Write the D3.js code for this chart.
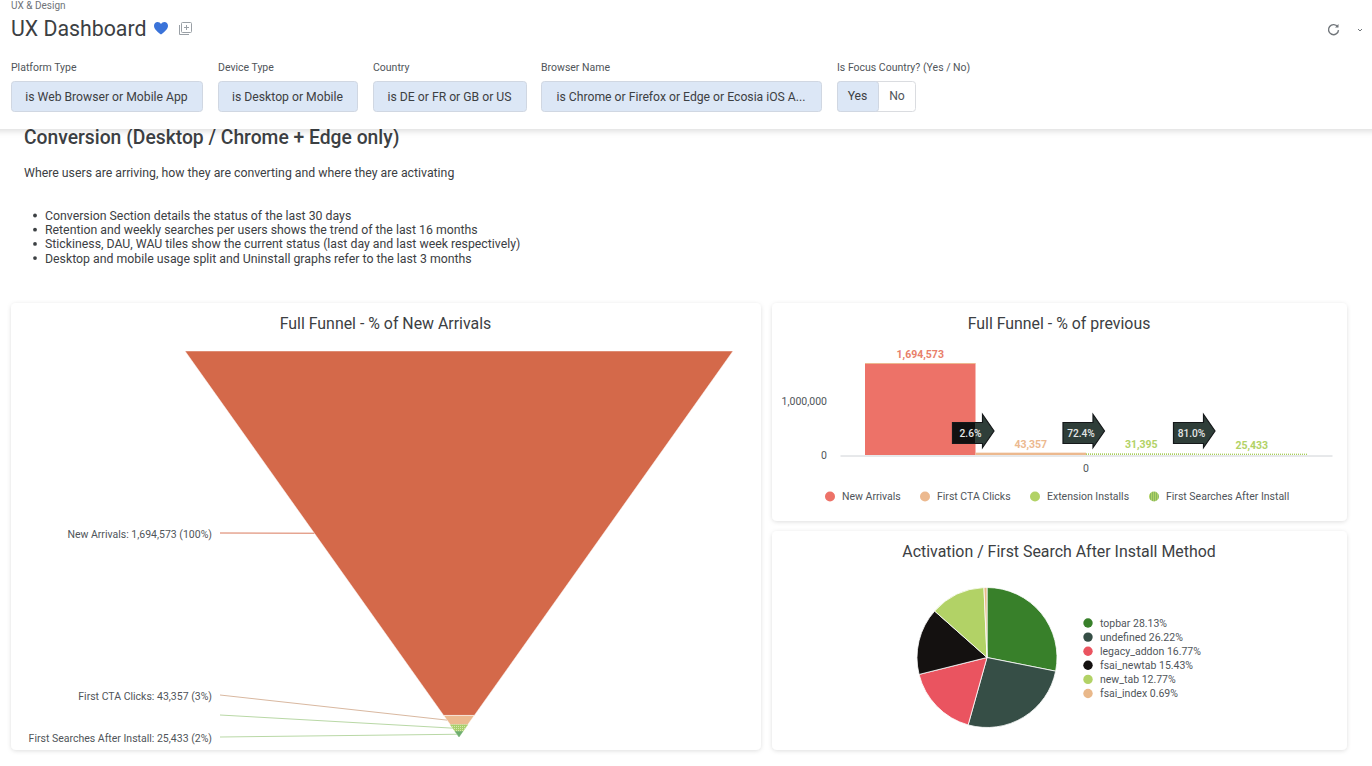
<!DOCTYPE html>
<html>
<head>
<meta charset="utf-8">
<script src="https://cdnjs.cloudflare.com/ajax/libs/d3/7.8.5/d3.min.js"></script>
<style>
    html, body { margin: 0; padding: 0; background: #fff; overflow: hidden; }
    svg { display: block; font-family: Roboto, sans-serif; }
</style>
</head>
<body>
<div id="chart"></div>
<script>
// funnel + bar series
const stages = ["New Arrivals", "First CTA Clicks", "Extension Installs", "First Searches After Install"];
const stageValues = [1694573, 43357, 31395, 25433];
const funnelLabels = ["New Arrivals: 1,694,573 (100%)", "First CTA Clicks: 43,357 (3%)", "", "First Searches After Install: 25,433 (2%)"];
const stepLabels = ["2.6%", "72.4%", "81.0%"];

// pie
const methods = ["topbar", "undefined", "legacy_addon", "fsai_newtab", "new_tab", "fsai_index"];
const methodShares = [28.13, 26.22, 16.77, 15.43, 12.77, 0.69];

// page text
const filterNames = ["Platform Type", "Device Type", "Country", "Browser Name", "Is Focus Country? (Yes / No)"];
const filterValues = ["is Web Browser or Mobile App", "is Desktop or Mobile", "is DE or FR or GB or US", "is Chrome or Firefox or Edge or Ecosia iOS A..."];
const notes = [
    "Conversion Section details the status of the last 30 days",
    "Retention and weekly searches per users shows the trend of the last 16 months",
    "Stickiness, DAU, WAU tiles show the current status (last day and last week respectively)",
    "Desktop and mobile usage split and Uninstall graphs refer to the last 3 months"
];

const barColors = ["#ed7268", "#ecb98f", "url(#barDots)", "url(#barDots)"];
const labelColors = ["#e8806a", "#ecb98f", "#b2d266", "#b2d266"];
const legendColors = ["#ed7268", "#ecb98f", "#b2d266", "url(#dots)"];
const funnelColors = ["#d4694a", "#ecb98f", "url(#dotsLight)", "#6fae6f"];
const funnelEdges = ["#fff", "#fff", "#a9cf6b", "#6fae6f"];
const leaderColors = ["#d9795c", "#d9b8a0", "#b9d8a6", "#b9d8a6"];
const pieColors = ["#38802a", "#364e46", "#ea5460", "#141110", "#b2d266", "#e9b88a"];

const textDark = "#3c4043";
const textMid = "#50555a";

let svg = d3.select("#chart")
    .append("svg")
    .attr("width", 1372)
    .attr("height", 766);

let defs = svg.append("defs");

let shadow = defs.append("filter")
    .attr("id", "cardShadow")
    .attr("x", "-5%").attr("y", "-5%")
    .attr("width", "110%").attr("height", "110%");
shadow.append("feDropShadow")
    .attr("dx", 0).attr("dy", 1)
    .attr("stdDeviation", 2)
    .attr("flood-color", "#000")
    .attr("flood-opacity", 0.13);

let headShadow = defs.append("filter")
    .attr("id", "headShadow")
    .attr("x", "-2%").attr("y", "-5%")
    .attr("width", "104%").attr("height", "120%");
headShadow.append("feDropShadow")
    .attr("dx", 0).attr("dy", 2)
    .attr("stdDeviation", 3)
    .attr("flood-color", "#000")
    .attr("flood-opacity", 0.14);

function dotPattern(id, bg, fg, h) {
    let p = defs.append("pattern")
        .attr("id", id)
        .attr("width", 2).attr("height", 2)
        .attr("patternUnits", "userSpaceOnUse");
    p.append("rect").attr("width", 2).attr("height", 2).attr("fill", bg);
    p.append("rect").attr("width", 1).attr("height", h).attr("fill", fg);
}
dotPattern("dots", "#b2d266", "#5f9e58", 1);
dotPattern("dotsLight", "#a9cf6b", "#d5e8b0", 1);
dotPattern("barDots", "#fff", "#a9cf5a", 2);

// body text goes first so the sticky header can cover the top of the heading
svg.append("text")
    .attr("x", 24).attr("y", 144)
    .attr("font-size", 19.3).attr("font-weight", 500)
    .attr("fill", textDark)
    .text("Conversion (Desktop / Chrome + Edge only)");

svg.append("text")
    .attr("x", 24).attr("y", 177)
    .attr("font-size", 12.3)
    .attr("fill", textDark)
    .text("Where users are arriving, how they are converting and where they are activating");

let noteRows = svg.append("g")
    .selectAll("g")
    .data(notes)
    .enter()
    .append("g")
    .attr("transform", function(d, i) { return "translate(0," + (215.5 + i * 14.2) + ")"; });
noteRows.append("circle")
    .attr("cx", 35).attr("r", 1.9)
    .attr("fill", textDark);
noteRows.append("text")
    .attr("x", 45).attr("y", 4.5)
    .attr("font-size", 12.3)
    .attr("fill", textDark)
    .text(function(d) { return d; });

// header
svg.append("rect")
    .attr("x", -10).attr("y", -10)
    .attr("width", 1392).attr("height", 139)
    .attr("fill", "#fff")
    .attr("filter", "url(#headShadow)");

svg.append("text")
    .attr("x", 11).attr("y", 9)
    .attr("font-size", 10)
    .attr("fill", "#6f7478")
    .text("UX & Design");

svg.append("text")
    .attr("x", 11).attr("y", 36)
    .attr("font-size", 21.3)
    .attr("fill", textDark)
    .text("UX Dashboard");

// heart
svg.append("path")
    .attr("transform", "translate(154,22)")
    .attr("d", "M7 12.5 C2 9 0 6.5 0 3.8 C0 1.5 1.7 0 3.6 0 C5 0 6.3 .8 7 2 C7.7 .8 9 0 10.4 0 C12.3 0 14 1.5 14 3.8 C14 6.5 12 9 7 12.5 Z")
    .attr("fill", "#3a73d9");

// add-to-board icon
let boardIcon = svg.append("g")
    .attr("transform", "translate(179,22)")
    .attr("fill", "none")
    .attr("stroke", "#9aa0a6");
boardIcon.append("rect").attr("x", 2.5).attr("y", .5).attr("width", 10).attr("height", 10).attr("rx", 1);
boardIcon.append("path").attr("d", "M.5 3V12.5H10M7.5 3V8M5 5.5H10");

// refresh icon
let refreshIcon = svg.append("g")
    .attr("transform", "translate(1333.5,29.5)")
    .attr("fill", "none")
    .attr("stroke", "#70757a")
    .attr("stroke-width", 1.4);
refreshIcon.append("path").attr("d", "M4.2 -2.6 A5 5 0 1 0 5 0.6");
refreshIcon.append("path").attr("d", "M5 -5.5 V-2 H1.5").attr("fill", "#70757a").attr("stroke", "none");

svg.append("path")
    .attr("d", "M1358 29l2 2l2 -2")
    .attr("fill", "none")
    .attr("stroke", "#70757a");

// filters
const filterX = [11, 218, 373, 541, 837];
const chipW = [192, 140, 154, 281];

svg.append("g")
    .selectAll("text")
    .data(filterNames)
    .enter()
    .append("text")
    .attr("x", function(d, i) { return filterX[i]; })
    .attr("y", 71)
    .attr("font-size", 10.5)
    .attr("fill", textMid)
    .text(function(d) { return d; });

let chips = svg.append("g")
    .selectAll("g")
    .data(filterValues)
    .enter()
    .append("g")
    .attr("transform", function(d, i) { return "translate(" + filterX[i] + ",81)"; });
chips.append("rect")
    .attr("x", .5).attr("y", .5)
    .attr("width", function(d, i) { return chipW[i] - 1; })
    .attr("height", 30)
    .attr("rx", 3)
    .attr("fill", "#dce7f6")
    .attr("stroke", "#d0d7e2");
chips.append("text")
    .attr("x", function(d, i) { return chipW[i] / 2 - .5; })
    .attr("y", 20)
    .attr("text-anchor", "middle")
    .attr("font-size", 12.2)
    .attr("fill", textDark)
    .text(function(d) { return d; });

svg.append("rect")
    .attr("x", 837.5).attr("y", 81.5)
    .attr("width", 78).attr("height", 30)
    .attr("rx", 3)
    .attr("fill", "#fff")
    .attr("stroke", "#dadce0");
svg.append("rect")
    .attr("x", 837.5).attr("y", 81.5)
    .attr("width", 41).attr("height", 30)
    .attr("rx", 3)
    .attr("fill", "#dce7f6")
    .attr("stroke", "#d0d7e2");
svg.append("text")
    .attr("x", 857.5).attr("y", 100)
    .attr("text-anchor", "middle")
    .attr("font-size", 12.2)
    .attr("fill", textDark)
    .text("Yes");
svg.append("text")
    .attr("x", 897).attr("y", 100)
    .attr("text-anchor", "middle")
    .attr("font-size", 12.2)
    .attr("fill", textMid)
    .text("No");

// cards
const cards = [
    { x: 11, y: 303, w: 750, h: 447, title: "Full Funnel - % of New Arrivals" },
    { x: 772, y: 303, w: 575, h: 218, title: "Full Funnel - % of previous" },
    { x: 772, y: 531, w: 575, h: 219, title: "Activation / First Search After Install Method" }
];

let cardG = svg.append("g")
    .selectAll("g")
    .data(cards)
    .enter()
    .append("g");
cardG.append("rect")
    .attr("x", function(d) { return d.x; })
    .attr("y", function(d) { return d.y; })
    .attr("width", function(d) { return d.w; })
    .attr("height", function(d) { return d.h; })
    .attr("rx", 5)
    .attr("fill", "#fff")
    .attr("filter", "url(#cardShadow)");
cardG.append("text")
    .attr("x", function(d) { return d.x + d.w / 2 - .5; })
    .attr("y", function(d) { return d.y + 25.5; })
    .attr("text-anchor", "middle")
    .attr("font-size", 15.9)
    .attr("fill", textDark)
    .text(function(d) { return d.title; });

// funnel: each section is as tall as its value, the outline runs to the apex
const funnelTotal = d3.sum(stageValues);
const funnelCx = 459;
const funnelTop = 351;
const funnelBottom = 737;
const funnelHalfW = 274;

let funnelY = d3.scaleLinear()
    .domain([0, funnelTotal])
    .range([funnelTop, funnelBottom]);
let funnelHalf = d3.scaleLinear()
    .domain([funnelTop, funnelBottom])
    .range([funnelHalfW, 0]);

let cumul = d3.cumsum(stageValues);
let sections = stages.map(function(s, i) {
    return {
        y0: funnelY(i == 0 ? 0 : cumul[i - 1]),
        y1: funnelY(cumul[i]),
        color: funnelColors[i],
        edge: funnelEdges[i],
        leader: leaderColors[i],
        label: funnelLabels[i]
    };
});

let sectionLine = d3.line();
svg.append("g")
    .selectAll("path")
    .data(sections)
    .enter()
    .append("path")
    .attr("d", function(d) {
        return sectionLine([
            [funnelCx - funnelHalf(d.y0), d.y0],
            [funnelCx + funnelHalf(d.y0), d.y0],
            [funnelCx + funnelHalf(d.y1), d.y1],
            [funnelCx - funnelHalf(d.y1), d.y1]
        ]) + "Z";
    })
    .attr("fill", function(d) { return d.color; })
    .attr("stroke", function(d) { return d.edge; })
    .attr("stroke-opacity", 0.6)
    .attr("stroke-width", 0.8);

// leader lines and their labels, the Extension Installs label is hidden in the original
const labelY = [533, 695, 715, 737];
svg.append("g")
    .selectAll("line")
    .data(sections)
    .enter()
    .append("line")
    .attr("x1", 220)
    .attr("y1", function(d, i) { return labelY[i]; })
    .attr("x2", function(d) { return funnelCx - funnelHalf((d.y0 + d.y1) / 2); })
    .attr("y2", function(d) { return (d.y0 + d.y1) / 2; })
    .attr("stroke", function(d) { return d.leader; })
    .attr("stroke-width", 1);

svg.append("g")
    .selectAll("text")
    .data(sections)
    .enter()
    .append("text")
    .attr("x", 212)
    .attr("y", function(d, i) { return labelY[i] + 4.5; })
    .attr("text-anchor", "end")
    .attr("font-size", 10.5)
    .attr("fill", textMid)
    .text(function(d) { return d.label; });

// bars
let barX = d3.scaleBand()
    .domain(stages)
    .range([865, 1307]);
let barY = d3.scaleLinear()
    .domain([0, 1000000])
    .range([455, 401]);

let xAxis = svg.append("g")
    .attr("transform", "translate(0,455.5)")
    .call(d3.axisBottom(d3.scaleBand().domain(["0"]).range([840, 1332])).tickSize(0).tickSizeOuter(0));
xAxis.select(".domain").attr("stroke", "#cfd2d6");
xAxis.selectAll("text")
    .attr("dy", 13)
    .attr("font-family", "Roboto, sans-serif")
    .attr("font-size", 10.5)
    .attr("fill", textMid);

svg.append("g")
    .selectAll("rect")
    .data(stages)
    .enter()
    .append("rect")
    .attr("x", function(d) { return barX(d); })
    .attr("y", function(d, i) { return barY(stageValues[i]); })
    .attr("width", barX.bandwidth())
    .attr("height", function(d, i) { return barY(0) - barY(stageValues[i]); })
    .attr("fill", function(d, i) { return barColors[i]; });

// thin orange cap along the top of the first bar
svg.append("line")
    .attr("x1", barX(stages[0]))
    .attr("x2", barX(stages[0]) + barX.bandwidth())
    .attr("y1", barY(stageValues[0]))
    .attr("y2", barY(stageValues[0]))
    .attr("stroke", "#ecb98f");

let yAxis = svg.append("g")
    .attr("transform", "translate(830,0)")
    .call(d3.axisLeft(barY).tickValues([0, 1000000]).tickSize(0).tickFormat(d3.format(",")));
yAxis.select(".domain").remove();
yAxis.selectAll("text")
    .attr("font-family", "Roboto, sans-serif")
    .attr("font-size", 10.5)
    .attr("fill", textMid);

svg.append("g")
    .selectAll("text")
    .data(stages)
    .enter()
    .append("text")
    .attr("x", function(d) { return barX(d) + barX.bandwidth() / 2; })
    .attr("y", function(d, i) { return barY(stageValues[i]) - 5; })
    .attr("text-anchor", "middle")
    .attr("font-size", 10.5)
    .attr("font-weight", 700)
    .attr("fill", function(d, i) { return labelColors[i]; })
    .text(function(d, i) { return d3.format(",")(stageValues[i]); });

// step arrows sit on the boundary between neighbouring bars
let arrows = svg.append("g")
    .selectAll("g")
    .data(stepLabels)
    .enter()
    .append("g")
    .attr("transform", function(d, i) { return "translate(" + barX(stages[i + 1]) + ",0)"; });
arrows.append("path")
    .attr("d", d3.line()([[-23, 422.5], [7, 422.5], [7, 414.5], [18.5, 431], [7, 447.5], [7, 443.5], [-23, 443.5]]) + "Z")
    .attr("fill", function(d, i) { return i == 0 ? "url(#arrowFirst)" : "#2f3e39"; })
    .attr("stroke", "#15181a")
    .attr("stroke-width", 1.2);
arrows.append("text")
    .attr("x", -5)
    .attr("y", 437)
    .attr("text-anchor", "middle")
    .attr("font-size", 10.2)
    .attr("font-weight", 500)
    .attr("fill", "#e4e6e6")
    .text(function(d) { return d; });

// the first arrow goes black where it lies on the red bar
let arrowFirst = defs.append("linearGradient")
    .attr("id", "arrowFirst")
    .attr("gradientUnits", "userSpaceOnUse")
    .attr("x1", -23).attr("x2", 18)
    .attr("y1", 0).attr("y2", 0);
arrowFirst.append("stop").attr("offset", "56%").attr("stop-color", "#111");
arrowFirst.append("stop").attr("offset", "56%").attr("stop-color", "#2f3e39");

// bar legend
const legendX = [830, 925, 1035, 1154];
let barLegend = svg.append("g")
    .selectAll("g")
    .data(stages)
    .enter()
    .append("g")
    .attr("transform", function(d, i) { return "translate(" + legendX[i] + ",496.5)"; });
barLegend.append("circle")
    .attr("r", 5)
    .attr("fill", function(d, i) { return legendColors[i]; });
barLegend.append("text")
    .attr("x", 12)
    .attr("y", 3.8)
    .attr("font-size", 10.5)
    .attr("fill", textMid)
    .text(function(d) { return d; });

// pie
let pie = d3.pie().sort(null)(methodShares);
let arc = d3.arc().innerRadius(0).outerRadius(70);
svg.append("g")
    .attr("transform", "translate(987,657.5)")
    .selectAll("path")
    .data(pie)
    .enter()
    .append("path")
    .attr("d", arc)
    .attr("fill", function(d, i) { return pieColors[i]; })
    .attr("stroke", "#fff")
    .attr("stroke-width", 0.8);

let pieLegend = svg.append("g")
    .selectAll("g")
    .data(methods)
    .enter()
    .append("g")
    .attr("transform", function(d, i) { return "translate(1088," + (623 + i * 14.1) + ")"; });
pieLegend.append("circle")
    .attr("r", 4.7)
    .attr("fill", function(d, i) { return pieColors[i]; });
pieLegend.append("text")
    .attr("x", 12)
    .attr("y", 3.8)
    .attr("font-size", 10.5)
    .attr("fill", textMid)
    .text(function(d, i) { return d + " " + methodShares[i].toFixed(2) + "%"; });
</script>
</body>
</html>
